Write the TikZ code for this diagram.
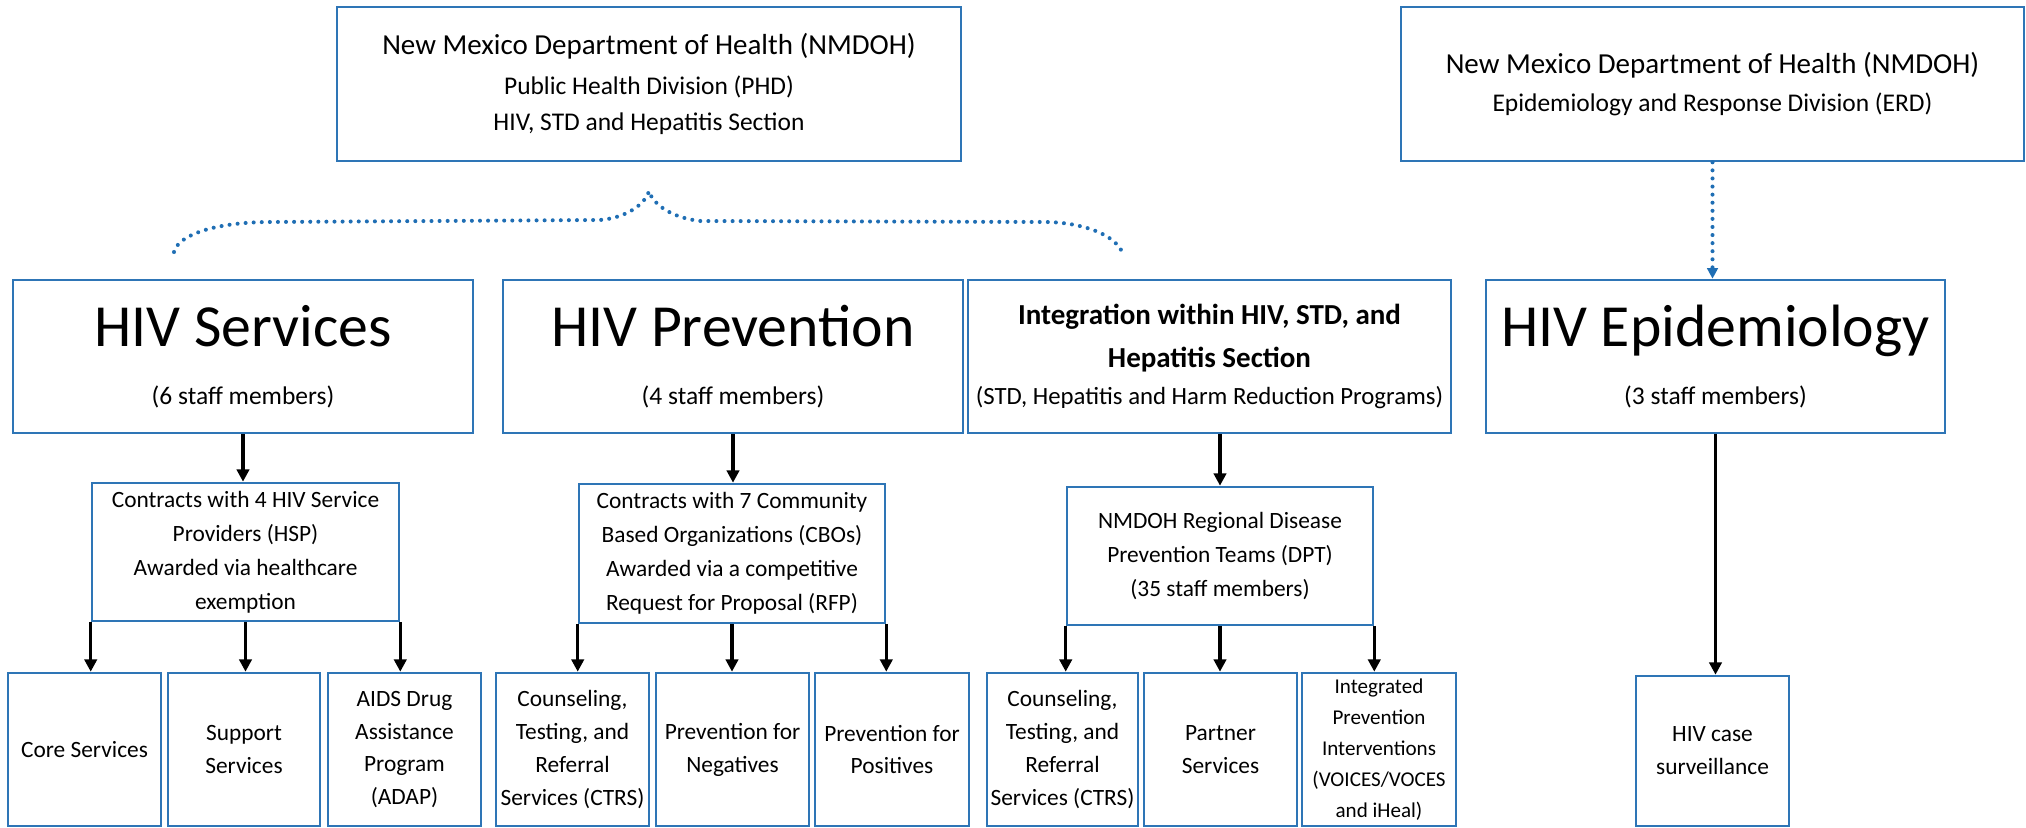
\documentclass[tikz,border=0pt]{standalone}
\usepackage{fontspec}
\setmainfont{Carlito}
\usetikzlibrary{arrows.meta}
\definecolor{nmblue}{RGB}{46,117,182}
\definecolor{dotblue}{RGB}{31,110,180}
\newcommand\fsz[2]{\fontsize{#1}{#2}\selectfont}
\begin{document}
\begin{tikzpicture}[x=0.02cm, y=-0.02cm,
  box/.style={draw=nmblue, line width=1.5pt, align=center, inner sep=1pt},
  big/.style={box, minimum width=9.2cm, minimum height=3.06cm, font=\fsz{14.5}{33}},
  mid/.style={box, minimum width=6.12cm, minimum height=2.76cm, font=\fsz{13.3}{19.3}},
  leaf/.style={box, minimum width=3.06cm, minimum height=3.06cm, font=\fsz{13.3}{18.7}},
  arr/.style={-{Triangle[length=7pt,width=7pt]}, line width=2pt},
  dots/.style={draw=dotblue, line width=2.3pt, line cap=round, dash pattern=on 0pt off 4.6pt}]
\useasboundingbox (0,0) rectangle (2026,828);
\node[box, minimum width=12.48cm, minimum height=3.08cm, font=\fsz{14.5}{20.5}] (phd) at (649,84) {{\fsz{16.5}{20}New Mexico Department of Health (NMDOH)}\\[2.2pt] Public Health Division (PHD)\\ HIV, STD and Hepatitis Section};
\node[box, minimum width=12.46cm, minimum height=3.08cm, font=\fsz{14.5}{21.5}] (erd) at (1712.5,84) {{\fsz{16.5}{20}New Mexico Department of Health (NMDOH)}\\ Epidemiology and Response Division (ERD)};
\node[big] (svc) at (243,356.5) {{\fsz{34}{40}HIV Services}\\ (6 staff members)};
\node[big] (prev) at (733,356.5) {{\fsz{34}{40}HIV Prevention}\\ (4 staff members)};
\node[box, minimum width=9.66cm, minimum height=3.06cm, font=\fsz{14.1}{21}] (integ) at (1209.5,356.5) {{\bfseries\fsz{16.5}{20}Integration within HIV, STD, and}\\[3.4pt]{\bfseries\fsz{16.5}{20}Hepatitis Section}\\ (STD, Hepatitis and Harm Reduction Programs)};
\node[big, minimum width=9.18cm] (epi) at (1715.5,356.5) {{\fsz{34}{40}HIV Epidemiology}\\ (3 staff members)};
\node[mid, minimum width=6.14cm] (hsp) at (245.5,552) {Contracts with 4 HIV Service\\ Providers (HSP)\\ Awarded via healthcare\\ exemption};
\node[mid, minimum height=2.78cm] (cbo) at (732,553.5) {Contracts with 7 Community\\ Based Organizations (CBOs)\\ Awarded via a competitive\\ Request for Proposal (RFP)};
\node[mid] (dpt) at (1220,556) {NMDOH Regional Disease\\ Prevention Teams (DPT)\\ (35 staff members)};
\node[leaf] (core) at (84.5,749.5) {Core Services};
\node[leaf, minimum width=3.04cm] (support) at (244,749.5) {Support\\ Services};
\node[leaf] (adap) at (404.5,749.5) {AIDS Drug\\ Assistance\\ Program\\ (ADAP)};
\node[leaf] (ctrsA) at (572.5,749.5) {Counseling,\\ Testing, and\\ Referral\\ Services (CTRS)};
\node[leaf] (neg) at (732.5,749.5) {Prevention for\\ Negatives};
\node[leaf, minimum width=3.08cm] (pos) at (892,749.5) {Prevention for\\ Positives};
\node[leaf, minimum width=3.02cm] (ctrsB) at (1062.5,749.5) {Counseling,\\ Testing, and\\ Referral\\ Services (CTRS)};
\node[leaf] (partner) at (1220.5,749.5) {Partner\\ Services};
\node[leaf, minimum width=3.08cm, font=\fsz{12}{17.6}] (ipi) at (1379,749.5) {Integrated\\ Prevention\\ Interventions\\ (VOICES/VOCES\\ and iHeal)};
\node[leaf, minimum height=3.0cm] (surv) at (1712.5,751) {HIV case\\ surveillance};
\coordinate (braceL) at (174,252);
\coordinate (braceT) at (649,191);
\coordinate (braceR) at (1124,257);
\draw[dots] (braceL) .. controls (178,235) and (215,222) .. (271,222) -- (600,220) .. controls (625,218) and (645,205) .. (braceT) .. controls (653,205) and (673,218) .. (700,221) -- (1045,222) .. controls (1075,222) and (1118,232) .. (braceR);
\draw[dots, -{Triangle[length=6pt,width=6pt]}] (erd.south) -- (erd.south |- epi.north);
\draw[arr] (svc.south) -- (svc.south |- hsp.north);
\draw[arr] (prev.south) -- (prev.south |- cbo.north);
\draw[arr] (dpt.north |- integ.south) -- (dpt.north);
\draw[arr] (epi.south) -- (epi.south |- surv.north);
\draw[arr] (hsp.south west) -- (hsp.south west |- core.north);
\draw[arr] (hsp.south) -- (hsp.south |- support.north);
\draw[arr] (hsp.south east) -- (hsp.south east |- adap.north);
\draw[arr] (cbo.south west) -- (cbo.south west |- ctrsA.north);
\draw[arr] (cbo.south) -- (cbo.south |- neg.north);
\draw[arr] (cbo.south east) -- (cbo.south east |- pos.north);
\draw[arr] (dpt.south west) -- (dpt.south west |- ctrsB.north);
\draw[arr] (dpt.south) -- (dpt.south |- partner.north);
\draw[arr] (dpt.south east) -- (dpt.south east |- ipi.north);
\end{tikzpicture}
\end{document}
